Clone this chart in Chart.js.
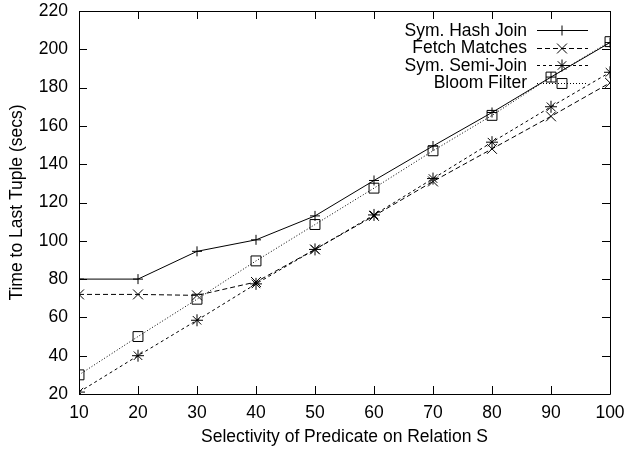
<!DOCTYPE html>
<html>
<head>
<meta charset="utf-8">
<script src="https://cdn.jsdelivr.net/npm/chart.js@4"></script>
<style>
html,body{margin:0;padding:0;background:#fff;}
#wrap{width:626px;height:451px;position:relative;}
</style>
</head>
<body>
<div id="wrap"><canvas id="c" width="626" height="451"></canvas></div>
<script>
const selectivity = [10, 20, 30, 40, 50, 60, 70, 80, 90, 100];
const symHashJoin = [80, 80, 94.5, 100.5, 113, 131.5, 149.5, 167, 185.5, 203.5];
const fetchMatches = [72, 72, 71.5, 78.5, 95.5, 113, 131, 148, 165, 182.5];
const symSemiJoin = [21, 40, 58.5, 77.5, 95.5, 113.5, 132.5, 151.5, 170, 188];
const bloomFilter = [30, 50, 69.5, 89.5, 108.5, 127.5, 147, 165.5, 185.5, 204];
const xTicks = [10, 20, 30, 40, 50, 60, 70, 80, 90, 100];
const yTicks = [20, 40, 60, 80, 100, 120, 140, 160, 180, 200, 220];

const FONT = 'Liberation Sans, Arial, Helvetica, sans-serif';
const FS = 17.5;

function pts(vals){ return selectivity.map((x,i)=>({x:x,y:vals[i]})); }

const datasets = [
  {label:'Sym. Hash Join', data:pts(symHashJoin), borderDash:[], pointStyle:'cross', pointRadius:5},
  {label:'Fetch Matches', data:pts(fetchMatches), borderDash:[5,3], pointStyle:'crossRot', pointRadius:7},
  {label:'Sym. Semi-Join', data:pts(symSemiJoin), borderDash:[3,3], pointStyle:'star', pointRadius:6},
  {label:'Bloom Filter', data:pts(bloomFilter), borderDash:[1,2], pointStyle:'rect', pointRadius:7}
].map(d=>Object.assign({
  borderColor:'#000', backgroundColor:'rgba(0,0,0,0)', pointBorderColor:'#000',
  pointBackgroundColor:'rgba(0,0,0,0)', borderWidth:1, pointBorderWidth:1,
  tension:0, fill:false
}, d));

function noPad(s){ s.paddingTop = 0; s.paddingBottom = 0; s.paddingLeft = 0; s.paddingRight = 0; }

const framePlugin = {
  id:'frame',
  afterDatasetsDraw(chart){
    const ctx = chart.ctx, a = chart.chartArea;
    const xs = chart.scales.x, ys = chart.scales.y;
    ctx.save();
    ctx.strokeStyle = '#000';
    ctx.lineWidth = 1;
    ctx.setLineDash([]);
    ctx.beginPath();
    ctx.rect(Math.round(a.left)+0.5, Math.round(a.top)+0.5, Math.round(a.right-a.left), Math.round(a.bottom-a.top));
    ctx.stroke();
    const TL = 8;
    ctx.beginPath();
    xs.ticks.forEach(t=>{
      const px = Math.round(xs.getPixelForValue(t.value))+0.5;
      ctx.moveTo(px, a.bottom); ctx.lineTo(px, a.bottom-TL);
      ctx.moveTo(px, a.top); ctx.lineTo(px, a.top+TL);
    });
    ys.ticks.forEach(t=>{
      const py = Math.round(ys.getPixelForValue(t.value))+0.5;
      ctx.moveTo(a.left, py); ctx.lineTo(a.left+TL, py);
      ctx.moveTo(a.right, py); ctx.lineTo(a.right-TL, py);
    });
    ctx.stroke();
    // legend (gnuplot style)
    ctx.font = FS + 'px ' + FONT;
    ctx.textAlign = 'right';
    ctx.textBaseline = 'middle';
    const textRight = 527, lineL = 537, lineR = 588, mid = 562;
    chart.data.datasets.forEach((ds,i)=>{
      const y = 30 + i*17.5;
      ctx.fillStyle = '#000';
      ctx.fillText(ds.label, textRight, y+1);
      ctx.save();
      ctx.setLineDash(ds.borderDash);
      ctx.lineWidth = ds.borderWidth;
      ctx.beginPath();
      ctx.moveTo(lineL, Math.round(y)+0.5); ctx.lineTo(lineR, Math.round(y)+0.5);
      ctx.stroke();
      ctx.setLineDash([]);
      ctx.fillStyle = 'rgba(0,0,0,0)';
      Chart.helpers.drawPoint(ctx, {pointStyle:ds.pointStyle, radius:ds.pointRadius, rotation:0, borderWidth:1}, mid, Math.round(y)+0.5);
      ctx.restore();
    });
    ctx.restore();
  }
};

new Chart(document.getElementById('c'), {
  type:'line',
  data:{datasets:datasets},
  options:{
    responsive:false,
    animation:false,
    devicePixelRatio:1,
    layout:{autoPadding:false, padding:{left:0, right:16, top:11, bottom:0}},
    plugins:{legend:{display:false}, tooltip:{enabled:false}},
    elements:{line:{borderCapStyle:'butt'}},
    scales:{
      x:{
        type:'linear', min:10, max:100,
        afterBuildTicks(s){ s.ticks = xTicks.map(v=>({value:v})); },
        afterFit(s){ s.height = 57; noPad(s); },
        grid:{display:false, drawTicks:false},
        border:{display:false},
        ticks:{color:'#000', font:{family:FONT, size:FS}, padding:9, maxRotation:0, autoSkip:false},
        title:{display:true, text:'Selectivity of Predicate on Relation S', color:'#000', font:{family:FONT, size:FS}, padding:{top:0,bottom:3}}
      },
      y:{
        type:'linear', min:20, max:220,
        afterBuildTicks(s){ s.ticks = yTicks.map(v=>({value:v})); },
        afterFit(s){ s.width = 79; noPad(s); },
        grid:{display:false, drawTicks:false},
        border:{display:false},
        ticks:{color:'#000', font:{family:FONT, size:FS}, padding:11, autoSkip:false},
        title:{display:true, text:'Time to Last Tuple (secs)', color:'#000', font:{family:FONT, size:FS}, padding:{top:7,bottom:0}}
      }
    }
  },
  plugins:[framePlugin]
});
</script>
</body>
</html>
